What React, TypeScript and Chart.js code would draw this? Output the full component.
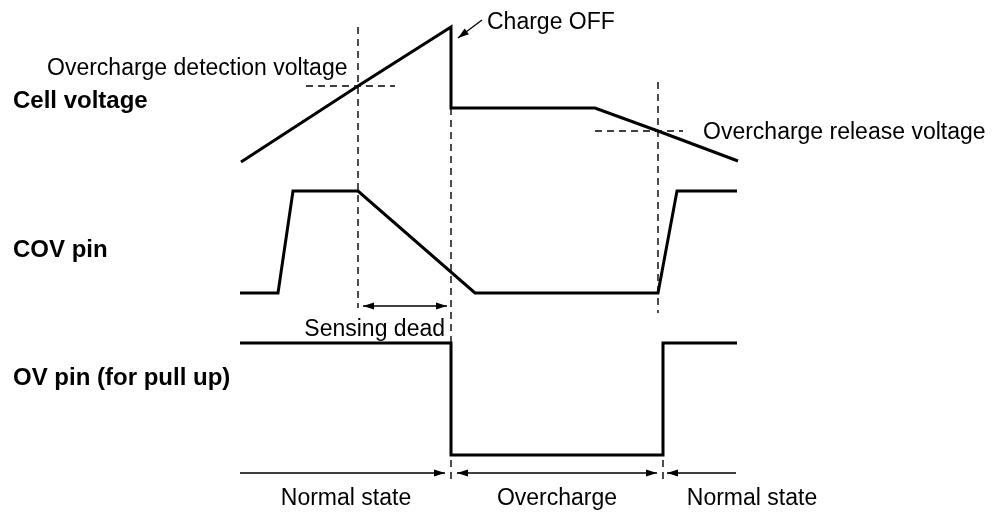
import React, { useEffect, useRef } from "react";
import { Chart, registerables } from "chart.js";

Chart.register(...registerables);

// Time axis (arbitrary units) and level axis (arbitrary units)
const X_MIN = -48;
const X_MAX = 150.4;
const Y_MIN = 0;
const Y_MAX = 102.6;

// Cell voltage waveform
const cellT = [0.2, 23.6, 42.2, 42.2, 71, 83.6, 99.6];
const cellV = [70.2, 85.4, 97.2, 81, 81, 76.4, 70.4];

// COV pin waveform
const covT = [0, 7.6, 10.6, 23.6, 47, 83.6, 87.4, 99.4];
const covV = [44, 44, 64.4, 64.4, 44, 44, 64.4, 64.4];

// OV pin waveform
const ovT = [0, 42.2, 42.2, 84.6, 84.6, 99.4];
const ovV = [34, 34, 11.6, 11.6, 34, 34];

// Threshold reference lines
const detectionLevel = 85.4;
const detectionSpan = [13.2, 31];
const releaseLevel = 76.4;
const releaseSpan = [71, 88.6];

// Vertical event markers
const markerTimes = [23.6, 42.2, 83.6];
const markerTops = [97.2, 81, 86.2];
const markerBottoms = [41, 34, 40];

// State boundary ticks
const stateTickTimes = [42.2, 84.6];
const stateTickRange = [10.6, 6];

// State arrows
const stateArrowLevel = 8;
const stateArrowStarts = [0, 43.4, 99.2];
const stateArrowEnds = [41, 83.4, 85.4];
const stateArrowHeadStart = [false, true, false];
const stateArrowHeadEnd = [true, true, true];
const stateLabels = ["Normal state", "Overcharge", "Normal state"];
const stateLabelCenters = [21.2, 63.4, 102.4];
const stateLabelLevel = 1.6;

// Sensing dead arrow
const deadLevel = 41.4;
const deadSpan = [24.6, 41.4];

// Charge OFF pointer
const chargeOffFrom = [48.4, 98.6];
const chargeOffTip = [43.6, 95];

// Text annotations
const annotationTexts = [
  "Overcharge detection voltage",
  "Cell voltage",
  "COV pin",
  "OV pin (for pull up)",
  "Charge OFF",
  "Overcharge release voltage",
  "Sensing dead",
];
const annotationT = [-38.6, -45.4, -45.4, -45.4, 49.4, 92.6, 41];
const annotationV = [87.6, 81, 51.2, 25.6, 96.8, 74.8, 35.4];
const annotationAlign = ["left", "left", "left", "left", "left", "left", "right"];
const annotationBold = [false, true, true, true, false, false, false];

const INK = "#000000";

function pts(ts: number[], vs: number[]) {
  return ts.map((t, i) => ({ x: t, y: vs[i] }));
}

function lineDs(data: any[], width: number, dash: number[] = [], extra: any = {}) {
  return {
    data,
    showLine: true,
    borderColor: INK,
    backgroundColor: INK,
    borderWidth: width,
    borderDash: dash,
    pointRadius: 0,
    pointHoverRadius: 0,
    tension: 0,
    borderJoinStyle: "miter",
    borderCapStyle: "butt",
    ...extra,
  };
}

const arrowPlugin = {
  id: "arrowHeads",
  afterDatasetsDraw(chart: any) {
    const ctx = chart.ctx;
    chart.data.datasets.forEach((ds: any, i: number) => {
      if (!ds.arrowStart && !ds.arrowEnd) return;
      const meta = chart.getDatasetMeta(i);
      const els = meta.data;
      if (els.length < 2) return;
      const draw = (tip: any, from: any) => {
        const ang = Math.atan2(tip.y - from.y, tip.x - from.x);
        const len = 11;
        const hw = 3.6;
        ctx.save();
        ctx.fillStyle = INK;
        ctx.beginPath();
        ctx.moveTo(tip.x, tip.y);
        ctx.lineTo(
          tip.x - len * Math.cos(ang) + hw * Math.sin(ang),
          tip.y - len * Math.sin(ang) - hw * Math.cos(ang)
        );
        ctx.lineTo(
          tip.x - len * Math.cos(ang) - hw * Math.sin(ang),
          tip.y - len * Math.sin(ang) + hw * Math.cos(ang)
        );
        ctx.closePath();
        ctx.fill();
        ctx.restore();
      };
      if (ds.arrowEnd) draw(els[els.length - 1], els[els.length - 2]);
      if (ds.arrowStart) draw(els[0], els[1]);
    });
  },
};

const textPlugin = {
  id: "diagramText",
  afterDraw(chart: any) {
    const ctx = chart.ctx;
    const xs = chart.scales.x;
    const ys = chart.scales.y;
    ctx.save();
    ctx.fillStyle = INK;
    ctx.textBaseline = "alphabetic";
    annotationTexts.forEach((txt, i) => {
      ctx.font = annotationBold[i]
        ? "bold 24px 'Liberation Sans', Arial, sans-serif"
        : "23px 'Liberation Sans', Arial, sans-serif";
      ctx.textAlign = annotationAlign[i] as CanvasTextAlign;
      ctx.fillText(txt, xs.getPixelForValue(annotationT[i]), ys.getPixelForValue(annotationV[i]));
    });
    ctx.font = "23px 'Liberation Sans', Arial, sans-serif";
    ctx.textAlign = "center";
    stateLabels.forEach((txt, i) => {
      ctx.fillText(txt, xs.getPixelForValue(stateLabelCenters[i]), ys.getPixelForValue(stateLabelLevel));
    });
    ctx.restore();
  },
};

const bgPlugin = {
  id: "whiteBg",
  beforeDraw(chart: any) {
    const ctx = chart.ctx;
    ctx.save();
    ctx.fillStyle = "#ffffff";
    ctx.fillRect(0, 0, chart.width, chart.height);
    ctx.restore();
  },
};

export default function App() {
  const ref = useRef<HTMLCanvasElement | null>(null);

  useEffect(() => {
    if (!ref.current) return;
    const datasets: any[] = [];

    // waveforms
    datasets.push(lineDs(pts(cellT, cellV), 3));
    datasets.push(lineDs(pts(covT, covV), 3));
    datasets.push(lineDs(pts(ovT, ovV), 3));

    // thresholds
    datasets.push(
      lineDs(pts(detectionSpan, [detectionLevel, detectionLevel]), 1.4, [7, 5])
    );
    datasets.push(lineDs(pts(releaseSpan, [releaseLevel, releaseLevel]), 1.4, [7, 5]));

    // vertical markers
    markerTimes.forEach((t, i) => {
      datasets.push(lineDs(pts([t, t], [markerTops[i], markerBottoms[i]]), 1.4, [7, 5]));
    });
    stateTickTimes.forEach((t) => {
      datasets.push(lineDs(pts([t, t], stateTickRange), 1.4, [7, 5]));
    });

    // state arrows
    stateArrowStarts.forEach((s, i) => {
      datasets.push(
        lineDs(pts([s, stateArrowEnds[i]], [stateArrowLevel, stateArrowLevel]), 1.3, [], {
          arrowStart: stateArrowHeadStart[i],
          arrowEnd: stateArrowHeadEnd[i],
        })
      );
    });

    // sensing dead
    datasets.push(
      lineDs(pts(deadSpan, [deadLevel, deadLevel]), 1.3, [], { arrowStart: true, arrowEnd: true })
    );

    // charge off pointer
    datasets.push(
      lineDs(pts([chargeOffFrom[0], chargeOffTip[0]], [chargeOffFrom[1], chargeOffTip[1]]), 1.3, [], {
        arrowEnd: true,
      })
    );

    const chart = new Chart(ref.current, {
      type: "scatter",
      data: { datasets },
      options: {
        animation: false,
        responsive: false,
        maintainAspectRatio: false,
        devicePixelRatio: 1,
        layout: { padding: 0 },
        events: [],
        scales: {
          x: { type: "linear", min: X_MIN, max: X_MAX, display: false },
          y: { type: "linear", min: Y_MIN, max: Y_MAX, display: false },
        },
        plugins: {
          legend: { display: false },
          tooltip: { enabled: false },
        },
      } as any,
      plugins: [bgPlugin, arrowPlugin, textPlugin],
    });
    return () => chart.destroy();
  }, []);

  return (
    <div
      style={{
        position: "fixed",
        left: 0,
        top: 0,
        width: 992,
        height: 513,
        background: "#ffffff",
      }}
    >
      <canvas ref={ref} width={992} height={513} style={{ width: 992, height: 513, display: "block" }} />
    </div>
  );
}
